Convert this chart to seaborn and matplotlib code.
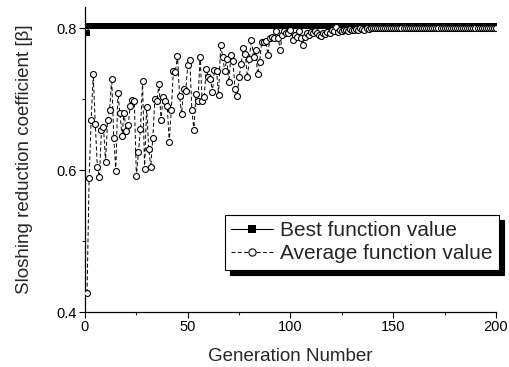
import numpy as np
import pandas as pd
import matplotlib
matplotlib.use("Agg")
import matplotlib.pyplot as plt
import seaborn as sns
from matplotlib.ticker import MultipleLocator, FixedLocator

# ---------------- data ----------------
generations = list(range(1, 201))

best_first = [0.793]
best_rest = [0.803] * 199
best_values = best_first + best_rest

avg_1_60 = [0.427, 0.589, 0.671, 0.735, 0.665, 0.605, 0.590, 0.656, 0.661, 0.612,
            0.670, 0.685, 0.729, 0.646, 0.599, 0.709, 0.681, 0.648, 0.681, 0.655,
            0.663, 0.690, 0.699, 0.698, 0.592, 0.625, 0.658, 0.725, 0.602, 0.689,
            0.630, 0.604, 0.646, 0.700, 0.698, 0.722, 0.670, 0.703, 0.697, 0.691,
            0.640, 0.685, 0.740, 0.739, 0.761, 0.705, 0.679, 0.715, 0.711, 0.748,
            0.755, 0.685, 0.656, 0.708, 0.698, 0.760, 0.698, 0.703, 0.743, 0.731]
avg_61_120 = [0.729, 0.710, 0.741, 0.740, 0.706, 0.777, 0.760, 0.740, 0.756, 0.724,
              0.762, 0.754, 0.714, 0.704, 0.731, 0.750, 0.772, 0.764, 0.731, 0.757,
              0.784, 0.759, 0.769, 0.735, 0.753, 0.781, 0.780, 0.782, 0.763, 0.787,
              0.788, 0.787, 0.796, 0.786, 0.770, 0.791, 0.796, 0.793, 0.794, 0.798,
              0.784, 0.791, 0.788, 0.796, 0.786, 0.777, 0.788, 0.793, 0.791, 0.795,
              0.793, 0.796, 0.793, 0.791, 0.789, 0.793, 0.792, 0.795, 0.793, 0.797]
avg_121_200 = [0.796, 0.802, 0.795, 0.797, 0.796, 0.798, 0.797, 0.796, 0.799, 0.798,
               0.797, 0.799, 0.798, 0.800, 0.799, 0.798, 0.800, 0.799, 0.800, 0.800,
               0.801, 0.800, 0.801, 0.800, 0.801, 0.801, 0.800, 0.801, 0.801, 0.801,
               0.801, 0.801, 0.801, 0.801, 0.801, 0.801, 0.801, 0.801, 0.801, 0.801,
               0.801, 0.801, 0.801, 0.801, 0.801, 0.801, 0.801, 0.801, 0.801, 0.801,
               0.801, 0.801, 0.801, 0.801, 0.801, 0.801, 0.801, 0.801, 0.801, 0.801,
               0.801, 0.801, 0.801, 0.801, 0.801, 0.801, 0.801, 0.801, 0.801, 0.801,
               0.801, 0.801, 0.801, 0.801, 0.801, 0.801, 0.801, 0.801, 0.801, 0.801]
avg_values = avg_1_60 + avg_61_120 + avg_121_200

x_ticks = [0, 50, 100, 150, 200]
x_tick_labels = ["0", "50", "100", "150", "200"]
y_ticks = [0.4, 0.6, 0.8]
y_tick_labels = ["0.4", "0.6", "0.8"]

series_best = "Best function value"
series_avg = "Average function value"

# ---------------- plotting ----------------
sns.set_style("ticks")
plt.rcParams['font.family'] = ['Liberation Sans', 'DejaVu Sans']

fig = plt.figure(figsize=(5.10, 3.67), dpi=100)
ax = fig.add_axes([85 / 510, 1 - 312 / 367, 411 / 510, 305 / 367])

df_best = pd.DataFrame({"gen": generations, "val": best_values})
df_avg = pd.DataFrame({"gen": generations, "val": avg_values})

sns.lineplot(data=df_best, x="gen", y="val", ax=ax, color="black",
             linewidth=0.8, marker="s", markersize=4.6, markeredgewidth=0,
             markerfacecolor="black", label=series_best, zorder=2)
sns.lineplot(data=df_avg, x="gen", y="val", ax=ax, color="black",
             linewidth=0.7, linestyle=(0, (4, 2.5)), marker="o", markersize=4.3,
             markeredgewidth=0.8, markerfacecolor="white", markeredgecolor="black",
             label=series_avg, zorder=3)

ax.set_xlim(0, 200)
ax.set_ylim(0.4, 0.83)
ax.set_xticks(x_ticks)
ax.set_xticklabels(x_tick_labels)
ax.set_yticks(y_ticks)
ax.set_yticklabels(y_tick_labels)
ax.xaxis.set_minor_locator(MultipleLocator(25))
ax.yaxis.set_minor_locator(FixedLocator([0.5, 0.7]))

ax.tick_params(which="major", direction="out", length=4, width=0.8,
               labelsize=10.5, colors="black", pad=2)
ax.tick_params(which="minor", direction="out", length=2.5, width=0.8)

for side in ["top", "right"]:
    ax.spines[side].set_visible(False)
for side in ["left", "bottom"]:
    ax.spines[side].set_linewidth(0.9)
    ax.spines[side].set_color("black")

ax.set_xlabel("Generation Number", fontsize=13.5, labelpad=10)
ax.set_ylabel("Sloshing reduction coefficient [β]", fontsize=13.5, labelpad=17)

leg = ax.legend(loc="upper left", bbox_to_anchor=(0.34, 0.318), borderaxespad=0,
                fontsize=15, frameon=True, fancybox=False, numpoints=1,
                handlelength=2.0, handletextpad=0.35, borderpad=0.3,
                labelspacing=0.2,
                shadow={"color": "black", "alpha": 1.0, "ox": 3.5, "oy": -3.5})
leg.get_frame().set_edgecolor("black")
leg.get_frame().set_linewidth(0.8)
leg.get_frame().set_alpha(1.0)
for h in leg.legend_handles:
    h.set_markersize(5.2)

fig.savefig("out.png", dpi=100)
